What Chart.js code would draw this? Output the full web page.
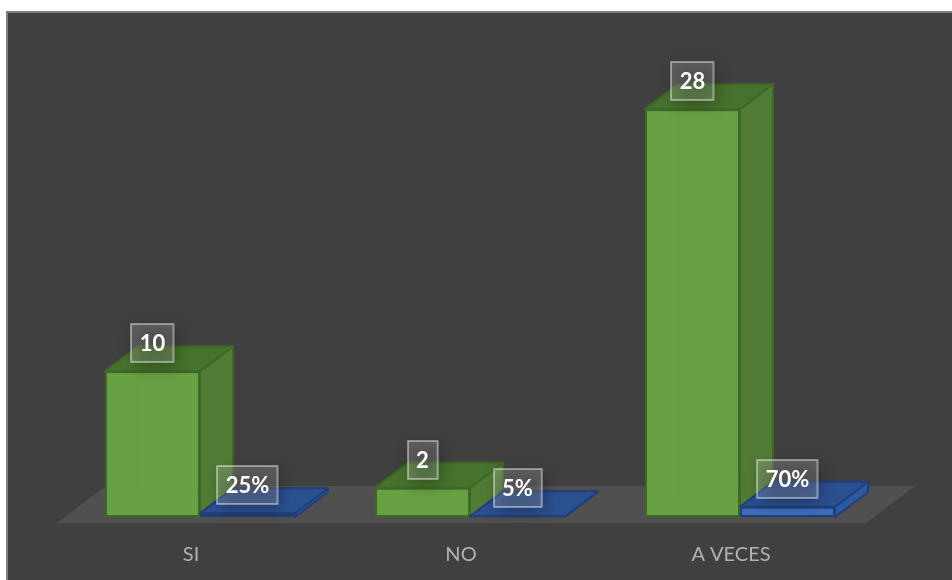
<!DOCTYPE html>
<html>
<head>
<meta charset="utf-8">
<title>Grafico</title>
<script src="https://cdn.jsdelivr.net/npm/chart.js@4"></script>
<style>
    html, body { margin: 0; padding: 0; background: #ffffff; overflow: hidden; }
    canvas { display: block; }
</style>
</head>
<body>
<canvas id="grafico" width="952" height="580"></canvas>
<script>
var categorias = ['SI', 'NO', 'A VECES'];
var cantidades = [10, 2, 28];
var porcentajes = [0.25, 0.05, 0.7];

// profundidad de las barras 3d
var fondoX = 33;
var fondoY = 25;

var coloresSerie = [
    { frente: '#68a044', lado: '#527c35', arriba: '#47722d', linea: '#3e6827' },
    { frente: '#3d6dbb', lado: '#2c5aa2', arriba: '#2b5091', linea: '#203f7a' }
];

function cara(ctx, puntos, relleno, linea) {
    ctx.beginPath();
    ctx.moveTo(puntos[0][0], puntos[0][1]);
    for (var i = 1; i < puntos.length; i++) {
        ctx.lineTo(puntos[i][0], puntos[i][1]);
    }
    ctx.closePath();
    ctx.fillStyle = relleno;
    ctx.fill();
    ctx.strokeStyle = linea;
    ctx.lineWidth = 2;
    ctx.lineJoin = 'round';
    ctx.stroke();
}

function etiqueta(ctx, texto, cx, cy) {
    ctx.font = 'bold 22px Lato';
    var ancho = ctx.measureText(texto).width + 17;
    var alto = 38;
    var x = Math.round(cx - ancho / 2);
    var y = Math.round(cy - alto / 2);

    // sombra suave del recuadro
    ctx.save();
    ctx.shadowColor = 'rgba(0,0,0,0.3)';
    ctx.shadowBlur = 16;
    ctx.shadowOffsetX = 2000 + 3;
    ctx.shadowOffsetY = 5;
    ctx.fillStyle = '#000';
    ctx.fillRect(x - 2000, y, ancho, alto);
    ctx.restore();

    ctx.fillStyle = 'rgba(255,255,255,0.17)';
    ctx.fillRect(x, y, ancho, alto);
    ctx.strokeStyle = 'rgba(255,255,255,0.42)';
    ctx.lineWidth = 2;
    ctx.strokeRect(x, y, ancho, alto);

    ctx.fillStyle = '#ffffff';
    ctx.textAlign = 'center';
    ctx.textBaseline = 'middle';
    ctx.fillText(texto, cx, cy + 1);
}

var plugin3d = {
    id: 'plugin3d',
    beforeDraw: function (chart) {
        var ctx = chart.ctx;
        ctx.save();
        ctx.fillStyle = '#404040';
        ctx.fillRect(7, 12, 945, 568);
        ctx.strokeStyle = '#7f7f7f';
        ctx.lineWidth = 2;
        ctx.strokeRect(7, 12, 950, 575);
        ctx.restore();
    },
    beforeDatasetsDraw: function (chart) {
        // piso del grafico
        var ctx = chart.ctx;
        var a = chart.chartArea;
        ctx.save();
        ctx.fillStyle = '#514f4f';
        ctx.beginPath();
        ctx.moveTo(a.left - 8, a.bottom + 6);
        ctx.lineTo(a.right - 9, a.bottom + 6);
        ctx.lineTo(a.right + 40, a.bottom - 31);
        ctx.lineTo(a.left + 41, a.bottom - 31);
        ctx.closePath();
        ctx.fill();
        ctx.restore();
    },
    afterDatasetsDraw: function (chart) {
        var ctx = chart.ctx;
        ctx.save();
        // primero verde, despues azul, para que el azul tape el lado verde
        chart.data.datasets.forEach(function (ds, d) {
            var c = coloresSerie[d];
            chart.getDatasetMeta(d).data.forEach(function (barra) {
                var izq = barra.x - barra.width / 2;
                var der = barra.x + barra.width / 2;
                var arr = barra.y;
                var aba = barra.base;
                barra.draw(ctx);
                cara(ctx, [[der, arr], [der + fondoX, arr - fondoY], [der + fondoX, aba - fondoY], [der, aba]], c.lado, c.linea);
                cara(ctx, [[izq, arr], [izq + fondoX, arr - fondoY], [der + fondoX, arr - fondoY], [der, arr]], c.arriba, c.linea);
                if (d === 0 && aba - arr > fondoY) {
                    // arista trasera que se ve a traves de la barra
                    ctx.strokeStyle = 'rgba(90,150,60,0.2)';
                    ctx.lineWidth = 1;
                    ctx.beginPath();
                    ctx.moveTo(izq + fondoX, arr + 2);
                    ctx.lineTo(izq + fondoX, aba - fondoY);
                    ctx.lineTo(der - 1, aba - fondoY);
                    ctx.stroke();
                }
            });
        });
        chart.data.datasets.forEach(function (ds, d) {
            chart.getDatasetMeta(d).data.forEach(function (barra, i) {
                var texto = d === 0 ? String(ds.data[i]) : Math.round(ds.data[i] * 100) + '%';
                etiqueta(ctx, texto, barra.x, barra.y - 28);
            });
        });
        ctx.restore();
    }
};

var grafico = new Chart(document.getElementById('grafico'), {
    type: 'bar',
    data: {
        labels: categorias,
        datasets: [
            {
                label: 'Cantidad',
                data: cantidades,
                backgroundColor: coloresSerie[0].frente,
                borderColor: coloresSerie[0].linea,
                borderWidth: 2,
                borderSkipped: false
            },
            {
                label: 'Porcentaje',
                data: porcentajes,
                backgroundColor: coloresSerie[1].frente,
                borderColor: coloresSerie[1].linea,
                borderWidth: 2,
                borderSkipped: false
            }
        ]
    },
    options: {
        responsive: false,
        animation: false,
        categoryPercentage: 0.7037,
        barPercentage: 1,
        layout: { padding: { left: 65, right: 77, top: 80, bottom: 0 } },
        plugins: {
            legend: { display: false },
            title: { display: false },
            tooltip: { enabled: false }
        },
        scales: {
            x: {
                grid: { display: false },
                border: { display: false },
                afterFit: function (escala) {
                    escala.height = 63;
                },
                ticks: {
                    color: '#b2b2b2',
                    font: { family: 'Lato', size: 20 },
                    padding: 18,
                    labelOffset: -9,
                    maxRotation: 0
                }
            },
            y: {
                display: false,
                min: 0,
                max: 30
            }
        }
    },
    plugins: [plugin3d]
});
// los datasets se pintan de nuevo en el plugin con sus caras 3d
console.log(grafico.chartArea);
</script>
</body>
</html>
